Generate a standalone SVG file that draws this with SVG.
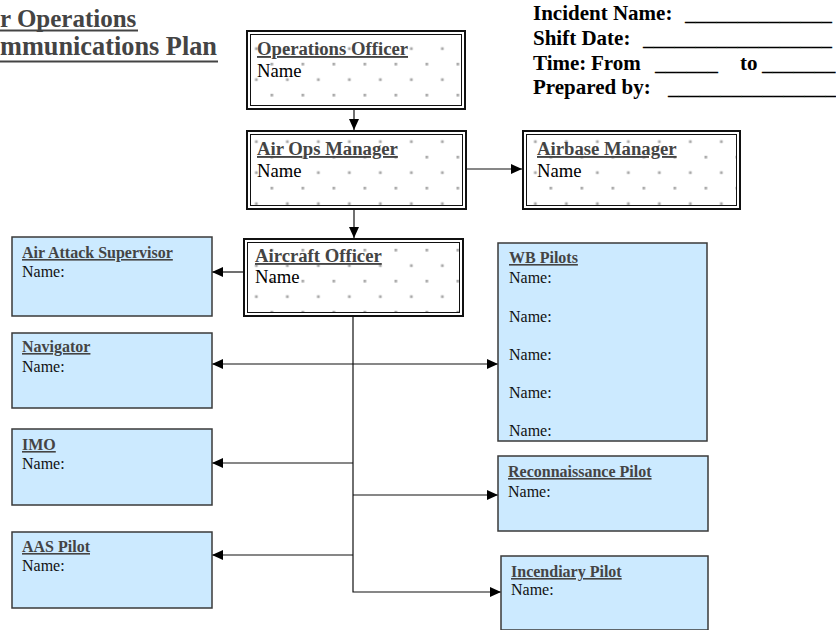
<svg xmlns="http://www.w3.org/2000/svg" width="836" height="630" viewBox="0 0 836 630">
<style>
.hdr{font-family:"Liberation Serif","Times New Roman",serif;font-weight:bold;font-size:21px;fill:#000}
.ttl{font-family:"Liberation Serif","Times New Roman",serif;font-weight:bold;fill:#444}
.wt{font-family:"Liberation Serif","Times New Roman",serif;font-weight:bold;font-size:18.7px;fill:#444;text-decoration:underline}
.wn{font-family:"Liberation Serif","Times New Roman",serif;font-size:18.7px;fill:#000}
.bt{font-family:"Liberation Serif","Times New Roman",serif;font-weight:bold;font-size:16px;fill:#444;text-decoration:underline}
.bn{font-family:"Liberation Serif","Times New Roman",serif;font-size:16px;fill:#111}
.wb-o{fill:#fff;stroke:#111;stroke-width:2}
.wb-i{fill:url(#dots);stroke:#111;stroke-width:1}
.blue{fill:#cceaff;stroke:#3a3a3a;stroke-width:1.5}
.con{fill:none;stroke:#111;stroke-width:1.2}
</style>
<defs>
<pattern id="dots" patternUnits="userSpaceOnUse" x="239.5" y="0.8" width="31" height="31">
<rect x="0" y="0" width="2.7" height="2.7" fill="#a8a8a8"/>
<rect x="15.5" y="15.5" width="2.7" height="2.7" fill="#a8a8a8"/>
</pattern>
<marker id="arr" markerUnits="userSpaceOnUse" markerWidth="12" markerHeight="10" refX="11" refY="5" orient="auto-start-reverse">
<path d="M0,0 L11,5 L0,10 z" fill="#000"/>
</marker>
</defs>

<g id="title">
<text class="ttl" x="0" y="27" font-size="25">r Operations</text>
<line x1="0" y1="30.5" x2="138" y2="30.5" stroke="#444" stroke-width="2"/>
<text class="ttl" x="0" y="55" font-size="26.3">mmunications Plan</text>
<line x1="0" y1="61.5" x2="218" y2="61.5" stroke="#444" stroke-width="2"/>
</g>

<g id="header">
<text class="hdr" x="533" y="20">Incident Name:</text>
<text class="hdr" x="685" y="20">______________</text>
<text class="hdr" x="533" y="45">Shift Date:</text>
<text class="hdr" x="643" y="45">__________________</text>
<text class="hdr" x="533" y="70">Time:</text>
<text class="hdr" x="591" y="70">From</text>
<text class="hdr" x="655" y="70">______</text>
<text class="hdr" x="740" y="70">to</text>
<text class="hdr" x="762" y="70">_______</text>
<text class="hdr" x="533" y="94">Prepared by:</text>
<text class="hdr" x="668" y="94">________________</text>
</g>

<g id="connectors">
<path class="con" d="M354,110 V130" marker-end="url(#arr)"/>
<path class="con" d="M354,210 V238" marker-end="url(#arr)"/>
<path class="con" d="M467,169 H522" marker-end="url(#arr)"/>
<path class="con" d="M243,272 H212" marker-end="url(#arr)"/>
<path class="con" d="M353,317 V592 H501" marker-end="url(#arr)"/>
<path class="con" d="M212,364 H498" marker-start="url(#arr)" marker-end="url(#arr)"/>
<path class="con" d="M353,463 H212" marker-end="url(#arr)"/>
<path class="con" d="M353,495 H498" marker-end="url(#arr)"/>
<path class="con" d="M353,555 H212" marker-end="url(#arr)"/>
</g>

<g id="operations-officer">
<rect class="wb-o" x="247" y="31" width="218" height="78"/>
<rect class="wb-i" x="250.5" y="34.5" width="211" height="71"/>
<text class="wt" x="257" y="55">Operations Officer</text>
<text class="wn" x="257" y="77">Name</text>
</g>

<g id="air-ops-manager">
<rect class="wb-o" x="247" y="131" width="219" height="78"/>
<rect class="wb-i" x="250.5" y="134.5" width="212" height="71"/>
<text class="wt" x="257" y="155">Air Ops Manager</text>
<text class="wn" x="257" y="177">Name</text>
</g>

<g id="airbase-manager">
<rect class="wb-o" x="523" y="131" width="217" height="78"/>
<rect class="wb-i" x="526.5" y="134.5" width="210" height="71"/>
<text class="wt" x="537" y="155">Airbase Manager</text>
<text class="wn" x="537" y="177">Name</text>
</g>

<g id="aircraft-officer">
<rect class="wb-o" x="244" y="239" width="219" height="77"/>
<rect class="wb-i" x="247.5" y="242.5" width="212" height="70"/>
<text class="wt" x="255" y="262">Aircraft Officer</text>
<text class="wn" x="255" y="283">Name</text>
</g>

<g id="air-attack-supervisor">
<rect class="blue" x="12" y="237" width="200" height="79"/>
<text class="bt" x="22" y="258">Air Attack Supervisor</text>
<text class="bn" x="22" y="277">Name:</text>
</g>

<g id="navigator">
<rect class="blue" x="12" y="333" width="200" height="75"/>
<text class="bt" x="22" y="352">Navigator</text>
<text class="bn" x="22" y="372">Name:</text>
</g>

<g id="imo">
<rect class="blue" x="12" y="429" width="200" height="76"/>
<text class="bt" x="22" y="450">IMO</text>
<text class="bn" x="22" y="469">Name:</text>
</g>

<g id="aas-pilot">
<rect class="blue" x="12" y="532" width="200" height="76"/>
<text class="bt" x="22" y="552">AAS Pilot</text>
<text class="bn" x="22" y="571">Name:</text>
</g>

<g id="wb-pilots">
<rect class="blue" x="498" y="243" width="209" height="198"/>
<text class="bt" x="509" y="263">WB Pilots</text>
<text class="bn" x="509" y="283">Name:</text>
<text class="bn" x="509" y="322">Name:</text>
<text class="bn" x="509" y="360">Name:</text>
<text class="bn" x="509" y="398">Name:</text>
<text class="bn" x="509" y="436">Name:</text>
</g>

<g id="reconnaissance-pilot">
<rect class="blue" x="498" y="456" width="210" height="75"/>
<text class="bt" x="508" y="477">Reconnaissance Pilot</text>
<text class="bn" x="508" y="497">Name:</text>
</g>

<g id="incendiary-pilot">
<rect class="blue" x="501" y="556" width="207" height="74"/>
<text class="bt" x="511" y="577">Incendiary Pilot</text>
<text class="bn" x="511" y="595">Name:</text>
</g>
</svg>
